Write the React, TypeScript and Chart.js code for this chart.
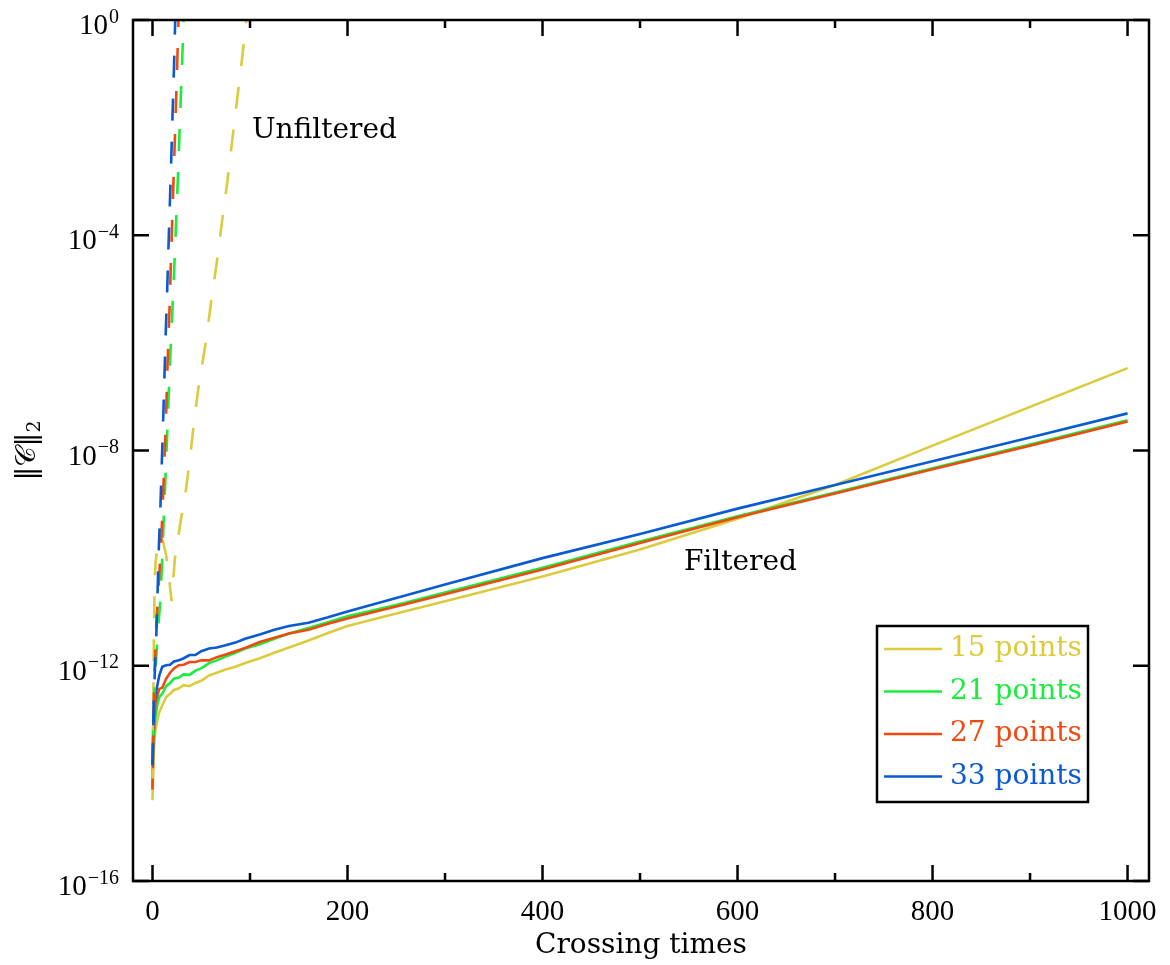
import React, { useEffect, useRef } from "react";
import { Chart, registerables } from "chart.js";

Chart.register(...registerables);

// Crossing times sampled for the filtered runs
const crossingTimes = [
  0, 1, 2, 3, 5, 7, 10, 14, 18, 22, 27, 32, 38, 44, 50, 58, 66, 75, 85, 95,
  110, 125, 140, 160, 180, 200, 250, 300, 400, 500, 600, 700, 800, 900, 1000,
];

// log10 of the constraint norm, filtered runs
const filtered15 = [
  -14.5, -13.7, -13.4, -13.2, -13.0, -12.86, -12.74, -12.58, -12.52, -12.45,
  -12.42, -12.36, -12.38, -12.32, -12.28, -12.18, -12.13, -12.07, -12.02, -11.95,
  -11.86, -11.76, -11.66, -11.53, -11.39, -11.26, -11.03, -10.8, -10.34, -9.84,
  -9.27, -8.64, -7.91, -7.19, -6.47,
];
const filtered21 = [
  -14.0, -13.5, -13.15, -12.95, -12.72, -12.58, -12.52, -12.38, -12.32, -12.24,
  -12.22, -12.16, -12.17, -12.09, -12.05, -11.95, -11.9, -11.83, -11.76, -11.68,
  -11.6, -11.5, -11.4, -11.3, -11.19, -11.08, -10.87, -10.64, -10.18, -9.69,
  -9.22, -8.78, -8.33, -7.89, -7.44,
];
const filtered27 = [
  -14.3, -13.4, -12.95, -12.7, -12.55, -12.43, -12.41, -12.24, -12.13, -12.05,
  -11.99, -11.98, -11.93, -11.93, -11.9, -11.9, -11.84, -11.79, -11.73, -11.67,
  -11.56, -11.48, -11.4, -11.33, -11.22, -11.12, -10.9, -10.67, -10.21, -9.72,
  -9.24, -8.8, -8.35, -7.91, -7.46,
];
const filtered33 = [
  -13.85, -13.0, -12.7, -12.55, -12.36, -12.18, -12.02, -11.99, -11.98, -11.92,
  -11.9, -11.86, -11.8, -11.8, -11.73, -11.68, -11.66, -11.62, -11.57, -11.5,
  -11.42, -11.33, -11.26, -11.2, -11.1, -10.99, -10.74, -10.49, -10.0, -9.55,
  -9.08, -8.64, -8.2, -7.76, -7.31,
];

// Unfiltered runs: crossing times and log10 of the constraint norm
const unfilteredTimes15 = [
  0, 0.5, 1, 1.5, 2, 3, 5, 8, 11, 14, 17, 19.5, 21, 23, 26, 29, 33, 36, 39, 43,
  47, 51, 55, 60, 66, 72, 77, 82, 87, 91, 96, 99,
];
const unfiltered15 = [
  -14.5, -13.2, -12.3, -11.4, -10.6, -10.1, -9.8, -9.6, -9.7, -9.95, -10.35,
  -10.8, -10.45, -10.0, -9.65, -9.3, -8.9, -8.5, -8.05, -7.4, -6.85, -6.4,
  -5.95, -5.25, -4.5, -3.65, -2.97, -2.2, -1.45, -0.85, -0.05, 0.4,
];
const unfilteredTimes21 = [
  0, 1, 2, 4, 6, 8, 10, 12, 14, 16, 18, 20, 22, 24, 26, 28, 30, 32, 33,
];
const unfiltered21 = [
  -14.0, -13.1, -12.5, -11.8, -11.25, -10.8, -10.0, -9.05, -8.2, -7.25, -6.35,
  -5.55, -4.75, -3.85, -2.95, -1.95, -0.95, 0.0, 0.5,
];
const unfilteredTimes27 = [
  0, 1, 2, 3, 4, 5.4, 7, 8.7, 10.5, 12, 14, 15.4, 17.5, 19.2, 21.7, 24.2, 26.5,
  27.5,
];
const unfiltered27 = [
  -14.3, -13.0, -12.2, -11.7, -11.2, -10.8, -10.3, -9.8, -9.0, -8.3, -7.3,
  -6.4, -5.35, -4.3, -2.9, -1.5, -0.1, 0.5,
];
const unfilteredTimes33 = [
  0, 1, 2, 3, 3.8, 5.1, 6.5, 8.2, 9.6, 11.0, 12.3, 13.6, 15.1, 16.4, 18.0,
  19.2, 20.5, 22.0, 23.3, 24,
];
const unfiltered33 = [
  -13.85, -12.9, -12.3, -11.8, -11.5, -10.7, -9.8, -9.0, -8.2, -7.4, -6.6,
  -5.8, -5.0, -4.2, -3.3, -2.6, -1.8, -0.9, 0.0, 0.5,
];

const seriesLabels = ["15 points", "21 points", "27 points", "33 points"];
const seriesColors = ["#dccb3c", "#18ee3c", "#f04a10", "#0a5ad2"];

const xMajorTicks = [0, 200, 400, 600, 800, 1000];
const xMinorTicks = [100, 300, 500, 700, 900];
const yTickExponents = [0, -4, -8, -12, -16];

const WORD_FONT = '"DejaVu Serif", "Liberation Serif", serif';
const NUM_FONT = '"Liberation Serif", "DejaVu Serif", serif';

const toPoints = (xs: number[], logs: number[]) =>
  xs.map((x, i) => ({ x, y: Math.pow(10, logs[i]) }));

const framePlugin = {
  id: "frameAndLabels",
  afterDatasetsDraw(chart: any) {
    const { ctx, chartArea, scales } = chart;
    const { left, right, top, bottom } = chartArea;
    const xs = scales.x;
    const ys = scales.y;
    ctx.save();

    // inward ticks on all four sides
    ctx.strokeStyle = "#000";
    ctx.lineWidth = 2.5;
    ctx.lineCap = "butt";
    ctx.beginPath();
    xMajorTicks.forEach((v) => {
      const p = xs.getPixelForValue(v);
      ctx.moveTo(p, bottom);
      ctx.lineTo(p, bottom - 16);
      ctx.moveTo(p, top);
      ctx.lineTo(p, top + 16);
    });
    xMinorTicks.forEach((v) => {
      const p = xs.getPixelForValue(v);
      ctx.moveTo(p, bottom);
      ctx.lineTo(p, bottom - 8);
      ctx.moveTo(p, top);
      ctx.lineTo(p, top + 8);
    });
    yTickExponents.forEach((e) => {
      const p = ys.getPixelForValue(Math.pow(10, e));
      ctx.moveTo(left, p);
      ctx.lineTo(left + 16, p);
      ctx.moveTo(right, p);
      ctx.lineTo(right - 16, p);
    });
    ctx.stroke();
    ctx.lineWidth = 2.5;
    ctx.strokeRect(left, top, right - left, bottom - top);

    // x tick labels
    ctx.fillStyle = "#000";
    ctx.font = `29px ${NUM_FONT}`;
    ctx.textAlign = "center";
    ctx.textBaseline = "alphabetic";
    xMajorTicks.forEach((v) => {
      ctx.fillText(String(v), xs.getPixelForValue(v), bottom + 39);
    });

    // y tick labels: 10 with superscript exponent
    yTickExponents.forEach((e) => {
      const p = ys.getPixelForValue(Math.pow(10, e));
      const sup = e === 0 ? "0" : "\u2212" + Math.abs(e);
      ctx.font = `20px ${NUM_FONT}`;
      const wSup = ctx.measureText(sup).width;
      ctx.font = `29px ${NUM_FONT}`;
      const wBase = ctx.measureText("10").width;
      const xRight = left - 14;
      ctx.textAlign = "left";
      ctx.fillText("10", xRight - wSup - wBase - 1, p + 14);
      ctx.font = `20px ${NUM_FONT}`;
      ctx.fillText(sup, xRight - wSup, p + 2.5);
    });

    // axis titles
    ctx.font = `28px ${WORD_FONT}`;
    ctx.textAlign = "center";
    ctx.fillText("Crossing times", (left + right) / 2, bottom + 72);

    ctx.save();
    ctx.translate(35, (top + bottom) / 2);
    ctx.rotate(-Math.PI / 2);
    ctx.textAlign = "left";
    ctx.font = `28px ${WORD_FONT}`;
    const main = "\u2016\uD835\uDC9E\u2016";
    const wMain = ctx.measureText(main).width;
    ctx.font = `19px ${WORD_FONT}`;
    const wSub = ctx.measureText("2").width;
    const start = -(wMain + wSub) / 2;
    ctx.font = `28px ${WORD_FONT}`;
    ctx.fillText(main, start, 0);
    ctx.font = `19px ${WORD_FONT}`;
    ctx.fillText("2", start + wMain, 5);
    ctx.restore();

    // curve annotations
    ctx.font = `28px ${WORD_FONT}`;
    ctx.textAlign = "left";
    ctx.fillText("Unfiltered", xs.getPixelForValue(102), ys.getPixelForValue(Math.pow(10, -2.19)));
    ctx.fillText("Filtered", xs.getPixelForValue(545), ys.getPixelForValue(Math.pow(10, -10.22)));

    // legend box
    const boxRight = right - 61;
    const boxBottom = bottom - 79;
    const boxW = 211;
    const boxH = 176;
    const bx = boxRight - boxW;
    const by = boxBottom - boxH;
    ctx.fillStyle = "#fff";
    ctx.fillRect(bx, by, boxW, boxH);
    ctx.strokeStyle = "#000";
    ctx.lineWidth = 2.5;
    ctx.strokeRect(bx, by, boxW, boxH);
    ctx.font = `28px ${WORD_FONT}`;
    seriesLabels.forEach((label, i) => {
      const rowY = by + 23 + i * 42.5;
      ctx.strokeStyle = seriesColors[i];
      ctx.lineWidth = 2.5;
      ctx.beginPath();
      ctx.moveTo(bx + 7, rowY);
      ctx.lineTo(bx + 65, rowY);
      ctx.stroke();
      ctx.fillStyle = seriesColors[i];
      ctx.fillText(label, bx + 73, rowY + 7);
    });

    ctx.restore();
  },
};

export default function App() {
  const canvasRef = useRef<HTMLCanvasElement | null>(null);

  useEffect(() => {
    const canvas = canvasRef.current;
    if (!canvas) return;

    const filteredSets = [filtered33, filtered27, filtered21, filtered15];
    const unfilteredSets = [
      [unfilteredTimes33, unfiltered33],
      [unfilteredTimes27, unfiltered27],
      [unfilteredTimes21, unfiltered21],
      [unfilteredTimes15, unfiltered15],
    ];
    const colorOrder = [3, 2, 1, 0];

    const datasets: any[] = [];
    unfilteredSets.forEach(([xs, logs], k) => {
      const c = seriesColors[colorOrder[k]];
      datasets.push({
        label: seriesLabels[colorOrder[k]] + " (unfiltered)",
        data: toPoints(xs as number[], logs as number[]),
        borderColor: c,
        borderWidth: 2.6,
        borderDash: [22, 21],
        borderDashOffset: k * 11,
        pointRadius: 0,
        tension: 0,
        fill: false,
      });
    });
    filteredSets.forEach((logs, k) => {
      const c = seriesColors[colorOrder[k]];
      datasets.push({
        label: seriesLabels[colorOrder[k]],
        data: toPoints(crossingTimes, logs),
        borderColor: c,
        borderWidth: 2.6,
        pointRadius: 0,
        tension: 0,
        fill: false,
      });
    });

    const chart = new Chart(canvas, {
      type: "line",
      data: { datasets },
      options: {
        animation: false,
        responsive: false,
        maintainAspectRatio: false,
        devicePixelRatio: 1,
        layout: { padding: { left: 133, right: 21, top: 20, bottom: 84 } },
        scales: {
          x: { type: "linear", min: -20, max: 1022, display: false },
          y: { type: "logarithmic", min: 1e-16, max: 1, display: false },
        },
        plugins: {
          legend: { display: false },
          tooltip: { enabled: false },
        },
        elements: { point: { radius: 0 }, line: { tension: 0 } },
      },
      plugins: [framePlugin],
    });

    return () => chart.destroy();
  }, []);

  return (
    <div
      style={{
        position: "absolute",
        left: 0,
        top: 0,
        width: 1170,
        height: 965,
        background: "#fff",
      }}
    >
      <canvas ref={canvasRef} width={1170} height={965} style={{ display: "block" }} />
    </div>
  );
}
